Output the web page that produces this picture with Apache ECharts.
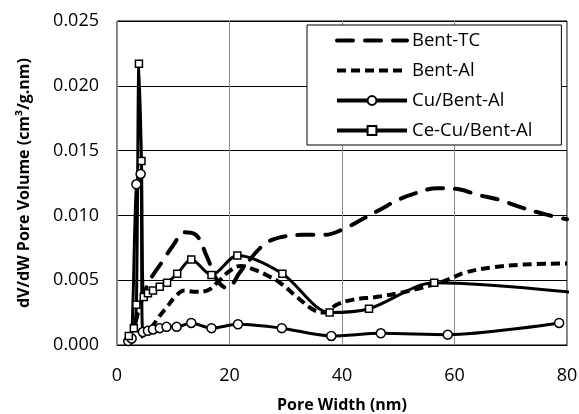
<!DOCTYPE html>
<html><head><meta charset="utf-8">
<script src="https://cdn.jsdelivr.net/npm/echarts@6/dist/echarts.min.js"></script>
<style>html,body{margin:0;padding:0;background:#fff}#c{width:579px;height:414px}</style>
</head><body><div id="c"></div>
<script>
// Pore width (nm) / dV/dW pore volume (cm3/g.nm)
const xTicks = [0, 20, 40, 60, 80];
const yTicks = [0.000, 0.005, 0.010, 0.015, 0.020, 0.025];

const bentTC = [
  [3.0,0.0012],[4.5,0.0036],[6,0.0051],[8,0.0064],[10,0.0077],[12,0.0087],[14,0.0085],
  [16,0.0068],[17.8,0.0050],[19.6,0.0044],[22,0.0057],[26,0.0077],[29,0.0083],
  [33,0.0085],[37,0.0085],[40,0.0089],[44,0.0098],[47,0.0105],[50,0.0112],[53,0.0117],
  [57,0.0121],[61,0.0120],[64,0.0116],[68,0.0112],[72,0.0106],[76,0.0101],[80,0.0097]
];
const bentAl = [
  [4.2,0.0006],[6,0.0013],[7.5,0.0022],[9,0.0030],[10.5,0.0038],[12,0.0042],[14,0.0041],
  [16,0.0042],[18,0.0049],[20,0.0057],[22,0.0061],[24.5,0.0058],[27,0.0053],[29,0.0048],
  [32,0.0037],[35,0.0027],[37,0.0025],[39,0.0031],[42,0.0035],[46,0.0037],[50,0.0040],
  [54,0.0044],[58,0.0049],[62,0.0056],[67,0.0060],[72,0.0062],[80,0.0063]
];
const cuBentAl = [
  [2.0,0.0003],[2.6,0.0005],[3.45,0.0124],[4.2,0.0132],[4.6,0.0010],[5.5,0.0011],
  [6.4,0.0012],[7.6,0.0013],[8.8,0.0014],[10.6,0.0014],[13.2,0.0017],[16.8,0.0013],
  [21.5,0.0016],[29.3,0.0013],[38.1,0.0007],[46.9,0.0009],[58.8,0.0008],[78.6,0.0017]
];
const ceCuBentAl = [
  [2.1,0.0007],[3.0,0.0013],[3.45,0.0031],[3.9,0.0217],[4.35,0.0142],[4.75,0.0037],
  [5.5,0.0040],[6.4,0.0042],[7.6,0.0045],[8.9,0.0048],[10.7,0.0055],[13.2,0.0066],
  [16.8,0.0054],[21.4,0.0069],[29.4,0.0055],[37.8,0.0025],[44.8,0.0028],[56.4,0.0048],
  [95,0.0034]
];

const FONT = '"Open Sans", sans-serif';
const tcDash = {color:'#000', width:4, type:[16,12], cap:'round'};
const alDash = {color:'#000', width:4, type:[9,5], cap:'butt'};
const solid = {color:'#000', width:3};
const legendSolid = {color:'#000', width:4};
const markerStyle = {color:'#fff', borderColor:'#000', borderWidth:1.5};

const chart = echarts.init(document.getElementById('c'), null, {renderer:'canvas'});
chart.setOption({
  animation: false,
  backgroundColor: '#fff',
  grid: {left:117, top:21, right:12, bottom:69, show:true, borderColor:'#000', borderWidth:1,
    containLabel:false, outerBoundsMode:'none'},
  legend: {
    orient:'vertical', left:307, top:25,
    padding:[6,29,5,28], itemGap:11, itemWidth:70, itemHeight:11,
    backgroundColor:'#fff', borderColor:'#000', borderWidth:1,
    textStyle:{fontFamily:FONT, fontSize:18.5, color:'#000'},
    data:[
      {name:'Bent-TC', itemStyle:{opacity:0}, lineStyle:tcDash},
      {name:'Bent-Al', itemStyle:{opacity:0}, lineStyle:alDash},
      {name:'Cu/Bent-Al', lineStyle:legendSolid},
      {name:'Ce-Cu/Bent-Al', lineStyle:legendSolid}
    ]
  },
  xAxis: {
    type:'value', min:xTicks[0], max:xTicks[xTicks.length-1], interval:20,
    name:'Pore Width (nm)', nameLocation:'middle', nameGap:52,
    nameTextStyle:{fontFamily:FONT, fontSize:16, fontWeight:'bold', color:'#000'},
    axisLine:{lineStyle:{color:'#000', width:1}},
    axisTick:{show:false},
    axisLabel:{fontFamily:FONT, fontSize:18, color:'#000', margin:22},
    splitLine:{show:true, lineStyle:{color:'#8c8c8c', width:1}}
  },
  yAxis: {
    type:'value', min:yTicks[0], max:yTicks[yTicks.length-1], interval:0.005,
    name:'dV/dW Pore Volume (cm³/g.nm)', nameLocation:'middle', nameGap:85,
    nameTextStyle:{fontFamily:FONT, fontSize:16, fontWeight:'bold', color:'#000'},
    axisLine:{show:true, lineStyle:{color:'#8c8c8c', width:1}},
    axisTick:{show:false},
    axisLabel:{fontFamily:FONT, fontSize:18, color:'#000', margin:18,
      formatter:v=>v.toFixed(3)},
    splitLine:{show:true, lineStyle:{color:'#000', width:1}}
  },
  series: [
    {name:'Bent-TC', type:'line', data:bentTC, smooth:0.4, symbol:'none', clip:true,
      itemStyle:{color:'#000'}, lineStyle:tcDash},
    {name:'Bent-Al', type:'line', data:bentAl, smooth:0.4, symbol:'none', clip:true,
      itemStyle:{color:'#000'}, lineStyle:alDash},
    {name:'Cu/Bent-Al', type:'line', data:cuBentAl, smooth:0.3, symbol:'circle', symbolSize:9,
      showAllSymbol:true, clip:true, itemStyle:markerStyle, lineStyle:solid},
    {name:'Ce-Cu/Bent-Al', type:'line', data:ceCuBentAl, smooth:0.3, symbol:'rect', symbolSize:7,
      showAllSymbol:true, clip:true, itemStyle:markerStyle, lineStyle:solid}
  ]
});
</script></body></html>
